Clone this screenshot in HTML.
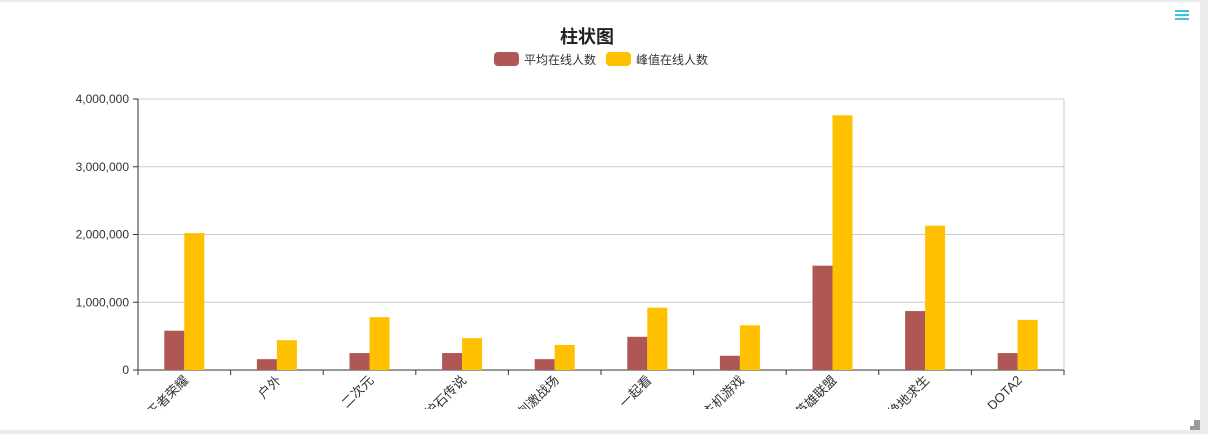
<!DOCTYPE html>
<html><head><meta charset="utf-8"><style>
html,body{margin:0;padding:0;background:#ebebeb;}
#wrap{position:absolute;left:0;top:2px;width:1200px;height:428px;background:#fff;}
svg{position:absolute;left:0;top:0;}
text{font-family:"Liberation Sans","Noto Sans CJK SC",sans-serif;}
</style></head><body>
<div id="wrap"></div>
<svg id="c" width="1208" height="434">
<defs><clipPath id="clip"><rect x="0" y="372" width="1208" height="37"/></clipPath></defs>
<text x="587" y="43" text-anchor="middle" font-size="18" font-weight="bold" fill="#222">柱状图</text>
<g><rect x="494" y="52" width="25" height="14" rx="4" fill="#ae5754"/><text x="524" y="64" font-size="12" fill="#333">平均在线人数</text></g>
<g><rect x="606" y="52" width="25" height="14" rx="4" fill="#ffc000"/><text x="636" y="64" font-size="12" fill="#333">峰值在线人数</text></g>
<g stroke="#3cc3e0" stroke-width="2"><line x1="1175" y1="11" x2="1189" y2="11"/><line x1="1175" y1="15" x2="1189" y2="15"/><line x1="1175" y1="19" x2="1189" y2="19"/></g>
<rect x="1190" y="426" width="4" height="4" fill="#999"/>
<rect x="1194" y="420" width="6" height="10" fill="#999"/>
<g id="g"></g>
</svg>
<script>
const categories=["王者荣耀","户外","二次元","炉石传说","刺激战场","一起看","主机游戏","英雄联盟","绝地求生","DOTA2"];
const avgValues=[580000,160000,250000,250000,160000,490000,210000,1540000,870000,250000];
const peakValues=[2020000,440000,780000,470000,370000,920000,660000,3760000,2130000,740000];
const yTicks=[0,1000000,2000000,3000000,4000000];
const X0=138,X1=1064,Y0=370,Y1=99,YMAX=4000000;
const band=(X1-X0)/categories.length;
const y=v=>Y0-(v/YMAX)*(Y0-Y1);
const cx=i=>X0+band*(i+0.5);
const g=document.getElementById('g');
const NS='http://www.w3.org/2000/svg';
function mk(t,a){const e=document.createElementNS(NS,t);for(const k in a)e.setAttribute(k,a[k]);g.appendChild(e);return e;}
yTicks.forEach(v=>{
 const l=mk('line',{x1:X0,x2:X1,y1:y(v),y2:y(v),stroke:v?'#ccc':'#333','stroke-width':1});
 
 
 mk('line',{x1:X0-5,x2:X0,y1:y(v),y2:y(v),stroke:'#333'});
 const t=mk('text',{x:X0-9,y:y(v)+4,'text-anchor':'end','font-size':12,fill:'#333'});
 t.textContent=v.toLocaleString('en-US');
 
 
});
mk('line',{x1:X0,x2:X0,y1:Y1,y2:Y0,stroke:'#333'});
mk('line',{x1:X1,x2:X1,y1:Y1,y2:Y0,stroke:'#ccc'});
for(let i=0;i<=categories.length;i++)mk('line',{x1:X0+band*i,x2:X0+band*i,y1:Y0,y2:Y0+5,stroke:'#333'});
categories.forEach((c,i)=>{
 const a=mk('rect',{x:cx(i)-20,y:y(avgValues[i]),width:20,height:Y0-y(avgValues[i]),fill:'#ae5754'});
 
 
 const p=mk('rect',{x:cx(i),y:y(peakValues[i]),width:20,height:Y0-y(peakValues[i]),fill:'#ffc000'});
 
 
 const w=document.createElementNS(NS,'g');w.setAttribute('clip-path','url(#clip)');g.appendChild(w);
 const t=document.createElementNS(NS,'text');
 t.setAttribute('text-anchor','end');t.setAttribute('font-size','13');t.setAttribute('fill','#333');
 t.setAttribute('transform',`translate(${cx(i)+5},${Y0+11}) rotate(-45)`);
 t.textContent=c;
 
 
 w.appendChild(t);
});
</script>
</body></html>
